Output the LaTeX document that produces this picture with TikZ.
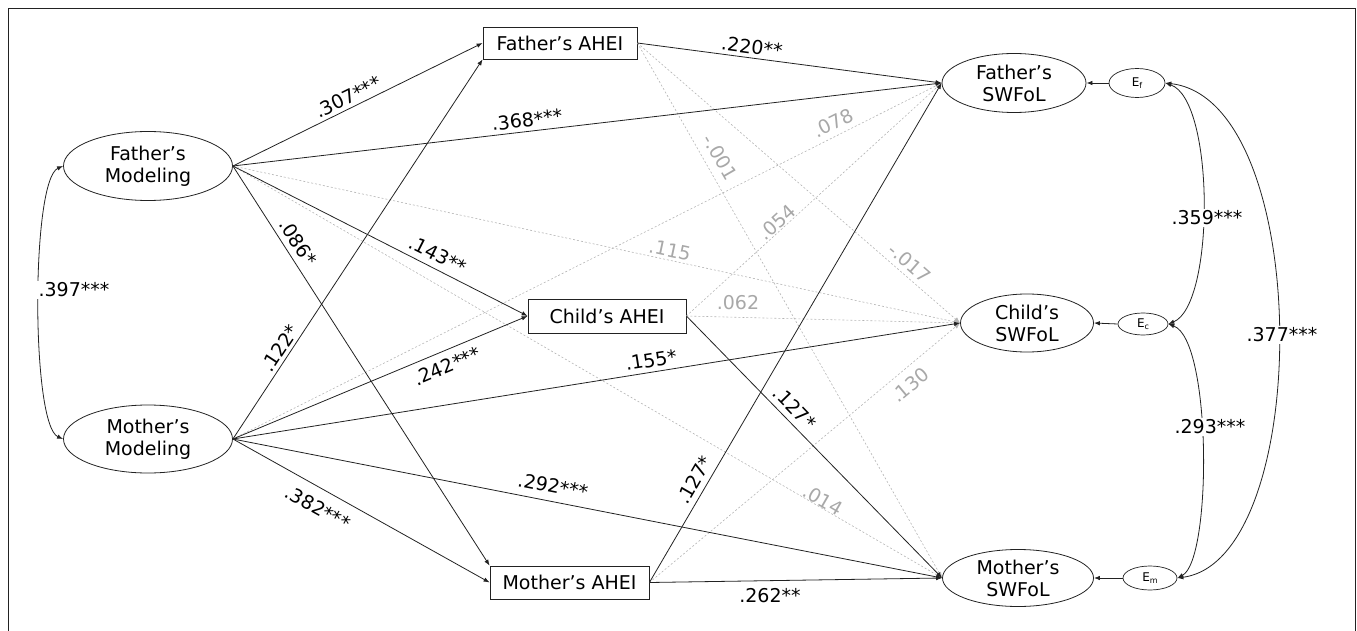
\documentclass[tikz,border=0pt]{standalone}
\usepackage{fontspec}
\setmainfont{DejaVu Sans}
\usetikzlibrary{shapes.geometric,arrows.meta}
\definecolor{ln}{HTML}{222222}
\definecolor{gl}{HTML}{B4B4B4}
\definecolor{gt}{HTML}{A8A8A8}
\newcommand{\fsz}{\fontsize{19}{22}\selectfont}
\newcommand{\esub}[1]{E\raisebox{-2pt}{\fontsize{8}{8}\selectfont #1}}
\tikzset{
 lat/.style={ellipse, draw=ln, line width=0.8pt, inner sep=0pt, align=center, font=\fsz},
 obs/.style={rectangle, draw=ln, line width=0.8pt, inner sep=0pt, font=\fsz},
 err/.style={ellipse, draw=ln, line width=0.7pt, inner sep=0pt, font=\fontsize{12}{12}\selectfont},
 sig/.style={draw=ln, line width=0.8pt, -{Latex[length=6pt,width=4.5pt]}},
 ns/.style={draw=gl, line width=0.6pt, dash pattern=on 2pt off 2pt, -{Latex[length=6pt,width=4.5pt]}},
 cov/.style={draw=ln, line width=0.8pt, {Latex[length=6pt,width=4.5pt]}-{Latex[length=6pt,width=4.5pt]}},
 lbl/.style={font=\fsz, text=black, inner sep=1pt},
 glbl/.style={font=\fsz, text=gt, inner sep=1pt},
 wlbl/.style={font=\fsz, text=black, fill=white, inner sep=2pt},
}
\begin{document}
\begin{tikzpicture}[x=1pt,y=-1pt]
\useasboundingbox (0,0) rectangle (1357,631);
\draw[ln, line width=1pt] (8,640) -- (8,9) -- (1355,9) -- (1355,640);

% latent / observed nodes
\node[lat, minimum width=169pt, minimum height=69pt] (FM) at (148,166) {Father’s\\Modeling};
\node[lat, minimum width=169pt, minimum height=68pt] (MM) at (148,439) {Mother’s\\Modeling};
\node[obs, minimum width=154pt, minimum height=32pt] (FA) at (560,43) {Father’s AHEI};
\node[obs, minimum width=158pt, minimum height=34pt] (CA) at (607,316) {Child’s AHEI};
\node[obs, minimum width=159pt, minimum height=33pt] (MA) at (569.5,582.5) {Mother’s AHEI};
\node[lat, minimum width=144pt, minimum height=59pt] (FS) at (1014,83) {Father’s\\SWFoL};
\node[lat, minimum width=133pt, minimum height=58pt] (CS) at (1027,323) {Child’s\\SWFoL};
\node[lat, minimum width=151pt, minimum height=57pt] (MS) at (1018,578) {Mother’s\\SWFoL};
\node[err, minimum width=56pt, minimum height=29pt] (EF) at (1137,83) {\esub{f}};
\node[err, minimum width=50pt, minimum height=22pt] (EC) at (1143,324) {\esub{c}};
\node[err, minimum width=54pt, minimum height=24pt] (EM) at (1150,578) {\esub{m}};

% non-significant paths
\draw[ns] (FM.east) -- (CS.west);
\draw[ns] (FM.east) -- (MS.west);
\draw[ns] (MM.east) -- (FS.west);
\draw[ns] (FA.east) -- (CS.west);
\draw[ns] (FA.east) -- (MS.west);
\draw[ns] (CA.east) -- (FS.west);
\draw[ns] (CA.east) -- (CS.west);
\draw[ns] (MA.east) -- (CS.west);

% significant paths
\draw[sig] (FM.east) -- (FA.west);
\draw[sig] (FM.east) -- (FS.west);
\draw[sig] (FM.east) -- (CA.west);
\draw[sig] (FM.east) -- (MA.north west);
\draw[sig] (MM.east) -- (FA.south west);
\draw[sig] (MM.east) -- (CA.west);
\draw[sig] (MM.east) -- (CS.west);
\draw[sig] (MM.east) -- (MS.west);
\draw[sig] (MM.east) -- (MA.west);
\draw[sig] (FA.east) -- (FS.west);
\draw[sig] (CA.east) -- (MS.west);
\draw[sig] (MA.east) -- (FS.west);
\draw[sig] (MA.east) -- (MS.west);
\draw[sig] (EF.west) -- (FS.east);
\draw[sig] (EC.west) -- (CS.east);
\draw[sig] (EM.west) -- (MS.east);

% covariances
\draw[cov] (FM.west) .. controls (31,180) and (31,425) .. (MM.west);
\draw[cov] (EF.east) .. controls (1215,100) and (1215,305) .. (EC.east);
\draw[cov] (EC.east) .. controls (1212,340) and (1212,560) .. (EM.east);
\draw[cov] (EF.east) .. controls (1314,100) and (1314,560) .. (EM.east);

% labels
\node[wlbl] (l397) at (74,290) {.397***};
\node[wlbl] (l359) at (1207,218) {.359***};
\node[wlbl] (l293) at (1210,427) {.293***};
\node[wlbl] (l377) at (1282,335) {.377***};

\node[lbl, rotate=26] (l307) at (348,97) {.307***};
\node[lbl, rotate=6.7] (l368) at (527,120) {.368***};
\node[lbl, rotate=-7.5] (l220) at (752,47) {.220**};
\node[lbl, rotate=-57] (l086) at (298,242) {.086*};
\node[lbl, rotate=-27] (l143) at (438,255) {.143**};
\node[lbl, rotate=56.6] (l122) at (280,348) {.122*};
\node[lbl, rotate=22.8] (l242) at (447,366) {.242***};
\node[lbl, rotate=9] (l155) at (651,360) {.155*};
\node[lbl, rotate=-11] (l292) at (553,486) {.292***};
\node[lbl, rotate=-29] (l382) at (318,508) {.382***};
\node[lbl] (l262) at (770,596) {.262**};
\node[lbl, rotate=-46] (l127a) at (795,408) {.127*};
\node[lbl, rotate=60] (l127b) at (694,480) {.127*};

\node[glbl, rotate=26.6] (g078) at (833,123) {.078};
\node[glbl, rotate=-60] (g001) at (720,157) {-.001};
\node[glbl, rotate=42] (g054) at (777,222) {.054};
\node[glbl, rotate=-12] (g115) at (670,250) {.115};
\node[glbl, rotate=-41] (g017) at (910,263) {-.017};
\node[glbl] (g062) at (738,303) {.062};
\node[glbl, rotate=40] (g130) at (910,385) {.130};
\node[glbl, rotate=-30] (g014) at (823,500) {.014};
\end{tikzpicture}
\end{document}
